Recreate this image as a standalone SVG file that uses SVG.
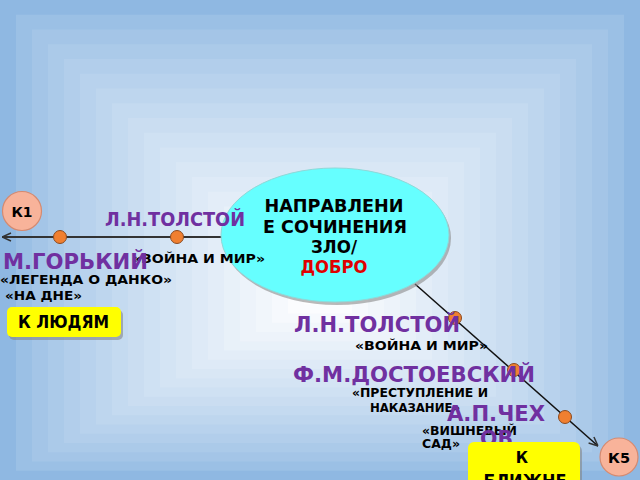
<svg xmlns="http://www.w3.org/2000/svg" width="640" height="480" viewBox="0 0 640 480">
<defs>
<style>
text{font-family:"DejaVu Sans","Liberation Sans",sans-serif;font-weight:bold}
.p{fill:#7030a0}
.b{fill:#000}
.s{font-size:12.5px}
.dot{fill:#f07f30;stroke:#8a4a20;stroke-width:1}
.k{fill:#f8b39a;stroke:#d58a70;stroke-width:1.2}
.box{fill:#ffff00}
.sh{fill:#7f7f7f;opacity:0.55}
</style>
<marker id="arr" viewBox="0 0 10 10" refX="10" refY="5" markerWidth="10" markerHeight="10" markerUnits="userSpaceOnUse" orient="auto">
<path d="M1,1 L10,5 L1,9" fill="none" stroke="#333" stroke-width="1.5"/>
</marker>
</defs>
<g id="background">
<rect x="0" y="0" width="640" height="480" fill="#8fb8e2"/>
<rect x="16" y="14.75" width="608" height="456" fill="#9bc0e5"/>
<rect x="32" y="29.5" width="576" height="432" fill="#a4c5e7"/>
<rect x="48" y="44.25" width="544" height="408" fill="#abcae9"/>
<rect x="64" y="59" width="512" height="384" fill="#b2ceeb"/>
<rect x="80" y="73.75" width="480" height="360" fill="#b8d2ed"/>
<rect x="96" y="88.5" width="448" height="336" fill="#bed6ee"/>
<rect x="112" y="103.25" width="416" height="312" fill="#c4daf0"/>
<rect x="128" y="118" width="384" height="288" fill="#caddf1"/>
<rect x="144" y="132.75" width="352" height="264" fill="#cfe1f3"/>
<rect x="160" y="147.5" width="320" height="240" fill="#d4e4f4"/>
<rect x="176" y="162.25" width="288" height="216" fill="#d9e7f5"/>
<rect x="192" y="177" width="256" height="192" fill="#deeaf7"/>
<rect x="208" y="191.75" width="224" height="168" fill="#e3edf8"/>
<rect x="224" y="206.5" width="192" height="144" fill="#e8f1f9"/>
<rect x="240" y="221.25" width="160" height="120" fill="#edf3fa"/>
<rect x="256" y="236" width="128" height="96" fill="#f1f6fb"/>
<rect x="272" y="250.75" width="96" height="72" fill="#f6f9fd"/>
<rect x="288" y="265.5" width="64" height="48" fill="#fbfcfe"/>
<rect x="304" y="280.25" width="32" height="24" fill="#ffffff"/>
</g>
<g id="connectors">
<line x1="222" y1="237" x2="2" y2="237" stroke="#333" stroke-width="2.2" marker-end="url(#arr)"/>
<line x1="415" y1="284" x2="598" y2="446" stroke="#111" stroke-width="1.5" marker-end="url(#arr)"/>
<circle class="dot" cx="60" cy="237" r="6.5"/>
<circle class="dot" cx="177" cy="237" r="6.5"/>
<circle class="dot" cx="455" cy="318" r="6.5"/>
<circle class="dot" cx="514" cy="370" r="6.5"/>
<circle class="dot" cx="565" cy="417" r="6.5"/>
</g>
<g id="center">
<ellipse cx="337" cy="238" rx="114" ry="67" fill="#8a8a8a" opacity="0.6"/>
<ellipse cx="335" cy="235" rx="114" ry="67" fill="#66ffff" stroke="#8fd8d8" stroke-width="1"/>
<text class="b" x="334" y="212" font-size="17" text-anchor="middle" textLength="139" lengthAdjust="spacingAndGlyphs">НАПРАВЛЕНИ</text>
<text class="b" x="335" y="233" font-size="17" text-anchor="middle" textLength="144" lengthAdjust="spacingAndGlyphs">Е СОЧИНЕНИЯ</text>
<text class="b" x="334" y="253" font-size="17" text-anchor="middle" textLength="46" lengthAdjust="spacingAndGlyphs">ЗЛО/</text>
<text x="334" y="273" font-size="17" fill="#e00000" text-anchor="middle" textLength="67" lengthAdjust="spacingAndGlyphs">ДОБРО</text>
</g>
<g id="k1">
<circle class="k" cx="22" cy="211" r="19.5"/>
<text class="b" x="22" y="217" font-size="14" text-anchor="middle" textLength="21" lengthAdjust="spacingAndGlyphs">К1</text>
</g>
<g id="k5">
<circle class="k" cx="619" cy="457" r="19"/>
<text class="b" x="619" y="463" font-size="14" text-anchor="middle" textLength="22" lengthAdjust="spacingAndGlyphs">К5</text>
</g>
<g id="tolstoy1">
<text class="p" x="105" y="226" font-size="19" textLength="140" lengthAdjust="spacingAndGlyphs">Л.Н.ТОЛСТОЙ</text>
<text class="b s" x="132" y="263" textLength="133" lengthAdjust="spacingAndGlyphs">«ВОЙНА И МИР»</text>
</g>
<g id="gorky">
<text class="p" x="3" y="269" font-size="21" textLength="145" lengthAdjust="spacingAndGlyphs">М.ГОРЬКИЙ</text>
<text class="b s" x="0" y="284" textLength="172" lengthAdjust="spacingAndGlyphs">«ЛЕГЕНДА О ДАНКО»</text>
<text class="b s" x="5" y="300" textLength="77" lengthAdjust="spacingAndGlyphs">«НА ДНЕ»</text>
</g>
<g id="to-people">
<rect class="sh" x="9" y="310" width="114" height="30" rx="5"/>
<rect class="box" x="7" y="307" width="114" height="30" rx="5"/>
<text class="b" x="18" y="328" font-size="17" textLength="91" lengthAdjust="spacingAndGlyphs">К ЛЮДЯМ</text>
</g>
<g id="tolstoy2">
<text class="p" x="294" y="332" font-size="21" textLength="166" lengthAdjust="spacingAndGlyphs">Л.Н.ТОЛСТОЙ</text>
<text class="b s" x="355" y="350" textLength="133" lengthAdjust="spacingAndGlyphs">«ВОЙНА И МИР»</text>
</g>
<g id="dostoevsky">
<text class="p" x="293" y="382" font-size="21" textLength="242" lengthAdjust="spacingAndGlyphs">Ф.М.ДОСТОЕВСКИЙ</text>
<text class="b s" x="352" y="397" textLength="136" lengthAdjust="spacingAndGlyphs">«ПРЕСТУПЛЕНИЕ И</text>
<text class="b s" x="370" y="412" textLength="90" lengthAdjust="spacingAndGlyphs">НАКАЗАНИЕ»</text>
</g>
<g id="chekhov">
<text class="b s" x="422" y="435" textLength="95" lengthAdjust="spacingAndGlyphs">«ВИШНЕВЫЙ</text>
<text class="b s" x="422" y="448" textLength="38" lengthAdjust="spacingAndGlyphs">САД»</text>
<text class="p" x="447" y="421" font-size="21" textLength="98" lengthAdjust="spacingAndGlyphs">А.П.ЧЕХ</text>
<text class="p" x="480" y="446" font-size="21" textLength="33" lengthAdjust="spacingAndGlyphs">ОВ</text>
</g>
<g id="to-neighbour">
<rect class="sh" x="470" y="445" width="112" height="50" rx="6"/>
<rect class="box" x="468" y="442" width="112" height="50" rx="6"/>
<text class="b" x="522" y="463" font-size="15" text-anchor="middle">К</text>
<text class="b" x="525" y="487" font-size="17" text-anchor="middle" textLength="83" lengthAdjust="spacingAndGlyphs">БЛИЖНЕ</text>
</g>
</svg>
